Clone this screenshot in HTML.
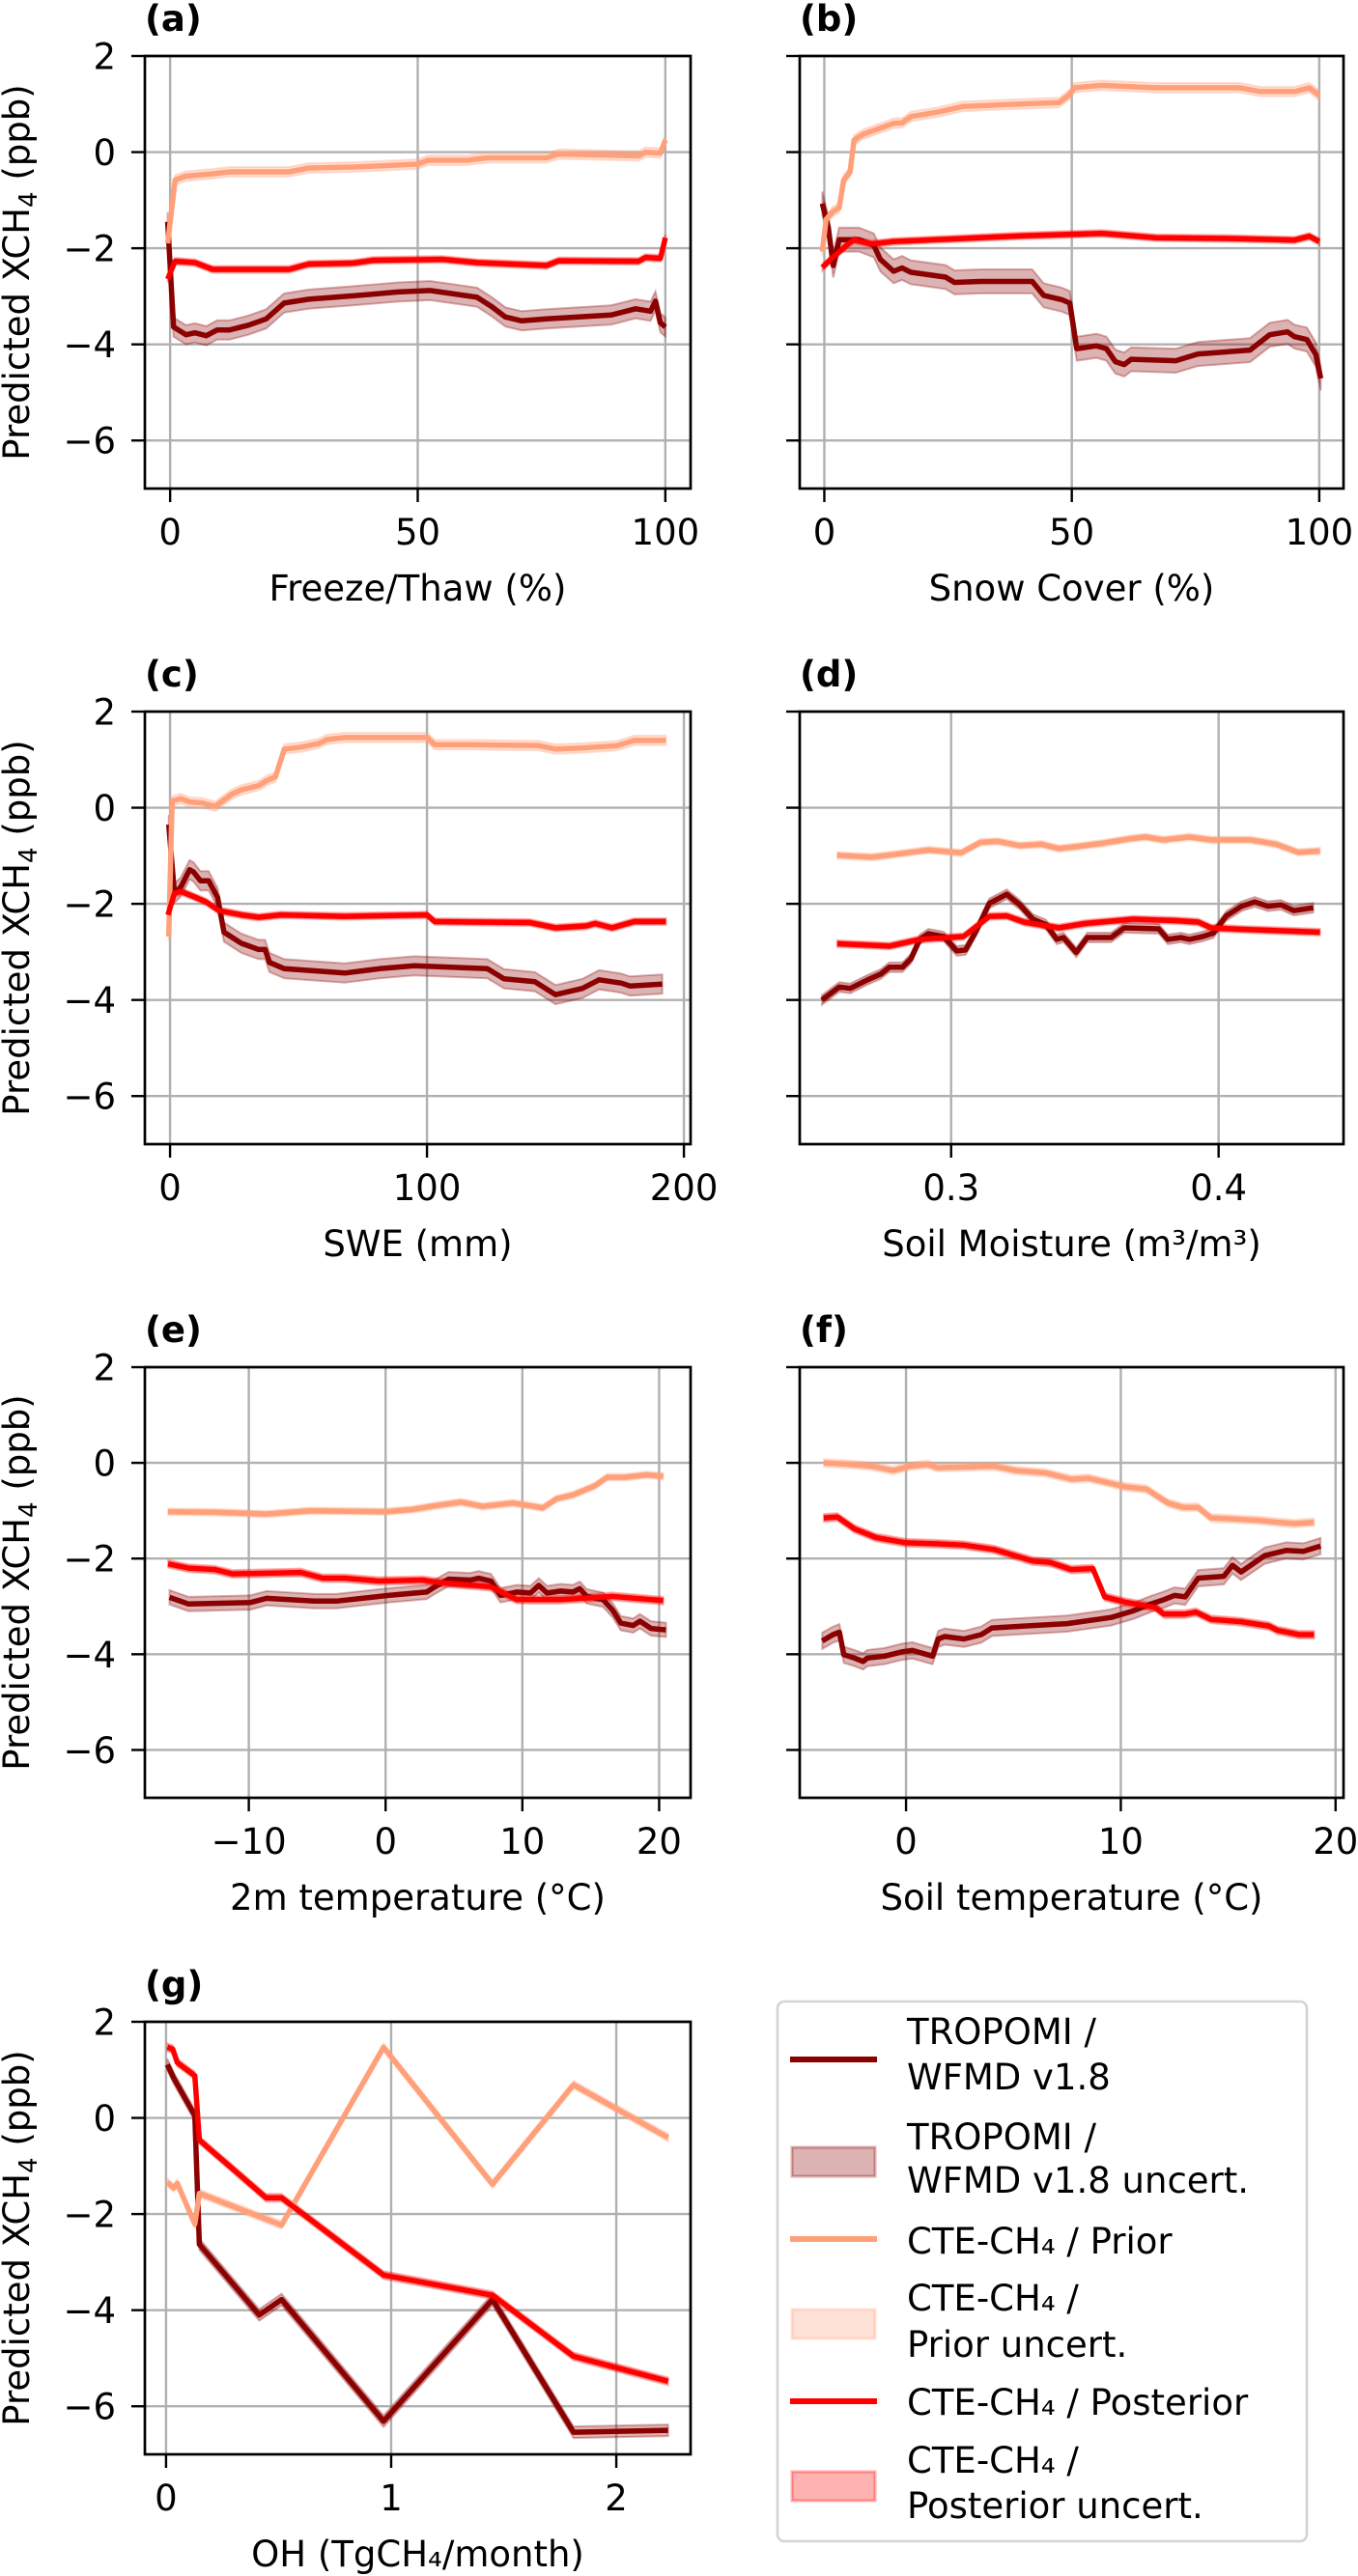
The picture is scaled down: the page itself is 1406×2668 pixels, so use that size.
<!DOCTYPE html>
<html>
<head>
<meta charset="utf-8">
<style>
html,body{margin:0;padding:0;background:#fff;}
svg{display:block;font-family:"DejaVu Sans","Liberation Sans",sans-serif;}
</style>
</head>
<body>
<svg id="fig" xmlns="http://www.w3.org/2000/svg" width="1406" height="2668" viewBox="0 0 1406 2668">
<rect x="0" y="0" width="1406" height="2668" fill="#fff"/>
</svg>
<script>
// ---------- DATA ----------
const yTicks = [-6, -4, -2, 0, 2];
const uncert = [0.2, 0.1, 0.07]; // TROPOMI, prior, posterior half-widths
const uncertB = [0.25, 0.1, 0.07];

// (a) Freeze/Thaw
const aXTicks = [0, 50, 100];
const aTropX = [-0.5,0.7,3.2,5,7.3,9.5,12,15.8,19.4,23,28,37,46,52.5,62,65,67.7,71,76,89,94,97,98,99,100];
const aTropY = [-1.45,-3.64,-3.80,-3.76,-3.82,-3.70,-3.70,-3.60,-3.47,-3.14,-3.06,-2.99,-2.91,-2.88,-3.02,-3.22,-3.43,-3.51,-3.47,-3.39,-3.26,-3.31,-3.10,-3.55,-3.64];
const aPriorX = [-0.5,1,3.2,8.6,12,24,28,37,50,52,60,64,76,78.5,94.6,96,99,100];
const aPriorY = [-1.9,-0.58,-0.50,-0.45,-0.41,-0.41,-0.33,-0.31,-0.25,-0.17,-0.17,-0.12,-0.12,-0.04,-0.08,0,-0.02,0.25];
const aPostX = [-0.5,1,5,8.6,24,28,37,41,55,62,76,78.5,94.6,96,99,100];
const aPostY = [-2.64,-2.27,-2.30,-2.44,-2.44,-2.33,-2.31,-2.25,-2.23,-2.30,-2.36,-2.26,-2.27,-2.19,-2.21,-1.78];

// (b) Snow Cover
const bXTicks = [0, 50, 100];
const bTropX = [-0.4,0.8,1.8,3,7,10,11.3,14,15.7,17.5,24.5,26.3,31.6,42,44.3,48,49.6,51,55,57,58.8,60.6,62,71,75.5,86,90,93.6,95,97.5,99.3,100.3];
const bTropY = [-1.07,-1.57,-2.36,-1.82,-1.82,-1.94,-2.23,-2.48,-2.41,-2.50,-2.60,-2.71,-2.69,-2.69,-2.98,-3.07,-3.14,-4.09,-4.03,-4.09,-4.36,-4.42,-4.31,-4.34,-4.20,-4.12,-3.80,-3.74,-3.84,-3.90,-4.21,-4.71];
const bPriorX = [-0.4,0.35,1.7,3,3.9,5.2,6,7.8,11.3,14,15.7,17.5,22.8,28,36.9,47.4,49.6,50.5,56,66.8,84,88,95,98,100];
const bPriorY = [-2.07,-1.40,-1.24,-1.16,-0.58,-0.41,0.25,0.37,0.50,0.60,0.61,0.74,0.83,0.95,0.99,1.03,1.20,1.34,1.39,1.34,1.34,1.26,1.26,1.34,1.18];
const bPostX = [-0.4,1.7,5.2,6,9.6,14,27,40,56,67,84,95,98,100];
const bPostY = [-2.40,-2.19,-1.88,-1.83,-1.91,-1.86,-1.80,-1.74,-1.69,-1.78,-1.80,-1.83,-1.75,-1.86];

// (c) SWE
const cXTicks = [0, 100, 200];
const cTropX = [-0.5,1.7,4.2,7.6,9.2,11.8,15,18.5,21,27.7,34.5,37,38.7,44.5,68,81.5,95,123.5,130,142,150,160.5,167,175.6,179,191.6];
const cTropY = [-0.35,-1.78,-1.65,-1.29,-1.34,-1.52,-1.52,-1.87,-2.59,-2.82,-2.95,-2.95,-3.22,-3.35,-3.44,-3.35,-3.29,-3.35,-3.56,-3.62,-3.89,-3.76,-3.58,-3.65,-3.71,-3.67];
const cPriorX = [-0.5,0.8,4.2,7.6,12.6,17.6,24,27.7,34.5,37.8,41,44.5,51,58,61,68,100,103,118,143.6,150,160,174,180.7,193];
const cPriorY = [-2.68,0.14,0.19,0.12,0.10,0.03,0.28,0.37,0.46,0.57,0.64,1.22,1.26,1.34,1.42,1.46,1.46,1.31,1.31,1.29,1.22,1.24,1.29,1.40,1.40];
const cPostX = [-0.8,1.7,4.2,11,14,19,27.7,34.5,43,68,100,103,140,150,162,165.5,172,180.7,193];
const cPostY = [-2.23,-1.78,-1.74,-1.89,-1.96,-2.14,-2.23,-2.28,-2.23,-2.26,-2.23,-2.37,-2.39,-2.50,-2.46,-2.41,-2.50,-2.37,-2.37];

// (d) Soil Moisture
const dXTicks = [0.3, 0.4];
const dTropX = [0.2517,0.2582,0.2623,0.2688,0.2737,0.2769,0.2818,0.2850,0.2883,0.2915,0.2972,0.3021,0.3054,0.3094,0.3143,0.3208,0.3257,0.3306,0.3354,0.3395,0.342,0.3468,0.3509,0.3598,0.3647,0.3776,0.3810,0.3859,0.3891,0.3940,0.3980,0.4029,0.4086,0.4135,0.4184,0.4233,0.4281,0.4354];
const dTropY = [-4.00,-3.73,-3.76,-3.58,-3.46,-3.32,-3.32,-3.14,-2.74,-2.62,-2.68,-2.98,-2.96,-2.56,-1.99,-1.80,-2.02,-2.32,-2.43,-2.74,-2.70,-3.01,-2.70,-2.70,-2.50,-2.52,-2.74,-2.70,-2.74,-2.68,-2.61,-2.25,-2.05,-1.96,-2.05,-2.02,-2.14,-2.08];
const dPriorX = [0.2574,0.2704,0.2834,0.2915,0.3037,0.311,0.3176,0.3257,0.3338,0.3403,0.3468,0.3566,0.3663,0.3728,0.3793,0.3891,0.3972,0.4119,0.4216,0.4298,0.4379];
const dPriorY = [-0.99,-1.03,-0.94,-0.88,-0.94,-0.72,-0.70,-0.79,-0.76,-0.85,-0.81,-0.74,-0.65,-0.61,-0.67,-0.61,-0.67,-0.67,-0.76,-0.93,-0.90];
const dPostX = [0.2574,0.2769,0.2883,0.3046,0.3143,0.3208,0.3273,0.3403,0.35,0.368,0.384,0.3924,0.3972,0.4086,0.4379];
const dPostY = [-2.83,-2.88,-2.74,-2.68,-2.26,-2.25,-2.38,-2.50,-2.41,-2.32,-2.35,-2.38,-2.50,-2.53,-2.59];

// (e) 2m temperature
const eXTicks = [-10, 0, 10, 20];
const eTropX = [-15.8,-14.4,-9.9,-8.7,-5.2,-3.6,0.2,3.0,3.6,4.6,6.2,6.8,7.7,8.4,9.6,10.6,11.2,11.8,12.8,13.7,14.2,14.7,15.9,16.6,17.2,18.1,18.6,19.4,20.5];
const eTropY = [-2.81,-2.95,-2.92,-2.83,-2.89,-2.89,-2.77,-2.70,-2.59,-2.43,-2.45,-2.41,-2.47,-2.77,-2.70,-2.72,-2.56,-2.72,-2.68,-2.70,-2.63,-2.79,-2.86,-3.08,-3.35,-3.40,-3.31,-3.46,-3.49];
const ePriorX = [-15.9,-12.5,-8.7,-5.5,0,2.05,3.3,5.5,7.1,9.3,11.5,12.5,13.7,15.3,16.2,17.5,19.1,20.3];
const ePriorY = [-1.02,-1.03,-1.07,-1.00,-1.02,-0.97,-0.91,-0.82,-0.91,-0.84,-0.94,-0.75,-0.67,-0.48,-0.30,-0.30,-0.25,-0.28];
const ePostX = [-15.9,-14.4,-12.5,-11.2,-6.2,-4.6,-3.0,-0.5,2.7,3.9,7.7,9.6,12.8,16.6,20.3];
const ePostY = [-2.11,-2.20,-2.23,-2.32,-2.29,-2.41,-2.41,-2.47,-2.45,-2.50,-2.59,-2.86,-2.86,-2.79,-2.88];

// (f) Soil temperature
const fXTicks = [0, 10, 20];
const fTropX = [-3.9,-3.4,-3.1,-2.9,-2.4,-2.0,-1.8,-1.0,-0.2,0.3,1.24,1.5,1.8,2.7,3.5,4.0,5.5,7.5,9.55,10.6,11.4,12.0,12.5,13.0,13.6,14.8,15.2,15.6,16.7,17.7,18.5,19.3];
const fTropY = [-3.72,-3.59,-3.54,-4.01,-4.08,-4.15,-4.08,-4.04,-3.95,-3.92,-4.04,-3.68,-3.63,-3.68,-3.59,-3.45,-3.41,-3.36,-3.23,-3.09,-2.95,-2.86,-2.77,-2.80,-2.41,-2.37,-2.14,-2.28,-1.94,-1.83,-1.85,-1.74];
const fPriorX = [-3.83,-2.6,-1.6,-0.6,0.2,1.0,1.44,4.1,5.1,6.5,7.7,8.5,9.55,10.2,11.2,12.2,12.9,13.6,14.2,16.4,17.3,18.1,19.0];
const fPriorY = [0,-0.03,-0.07,-0.16,-0.07,-0.03,-0.10,-0.07,-0.16,-0.21,-0.34,-0.32,-0.43,-0.50,-0.55,-0.84,-0.93,-0.93,-1.15,-1.20,-1.24,-1.27,-1.24];
const fPostX = [-3.83,-3.2,-2.4,-1.4,0,1.4,2.7,4.1,5.9,6.7,7.7,8.7,9.25,10.2,11.6,12.0,13.0,13.5,14.2,15.6,16.9,17.3,18.3,19.0];
const fPostY = [-1.15,-1.13,-1.38,-1.56,-1.67,-1.69,-1.72,-1.81,-2.05,-2.08,-2.23,-2.21,-2.80,-2.91,-3.02,-3.16,-3.16,-3.12,-3.27,-3.32,-3.41,-3.50,-3.59,-3.59];

// (g) OH
const gXTicks = [0, 1, 2];
const gTropX = [0.006,0.034,0.128,0.148,0.414,0.513,0.966,1.45,1.81,2.23];
const gTropY = [1.11,0.83,0.05,-2.63,-4.10,-3.78,-6.31,-3.78,-6.54,-6.50];
const gPriorX = [0.006,0.034,0.05,0.128,0.148,0.513,0.966,1.45,1.81,2.23];
const gPriorY = [-1.34,-1.46,-1.36,-2.21,-1.57,-2.23,1.47,-1.38,0.69,-0.41];
const gPostX = [0.006,0.03,0.05,0.128,0.148,0.444,0.513,0.966,1.45,1.81,2.23];
const gPostY = [1.47,1.43,1.15,0.88,-0.46,-1.66,-1.66,-3.27,-3.69,-4.96,-5.48];

// ---------- RENDER ----------
const NS = 'http://www.w3.org/2000/svg';
const svg = document.getElementById('fig');
const C_TROP = '#8b0000', C_PRIOR = '#ffa07a', C_POST = '#ff0000';

function mk(tag, attrs, parent) {
  const e = document.createElementNS(NS, tag);
  for (const k in attrs) e.setAttribute(k, attrs[k]);
  (parent || svg).appendChild(e);
  return e;
}
function fmt(v) {
  let s = (Math.abs(v) < 1e-9) ? '0' : String(+v.toFixed(2));
  return s.replace('-', '\u2212');
}

const panels = [
  {id:'a', L:150, R:715, T:58, B:506, xmin:-5.1, xmax:105.1, ticks:aXTicks, label:'Freeze/Thaw (%)', ylab:true,
   trop:[aTropX,aTropY], prior:[aPriorX,aPriorY], post:[aPostX,aPostY], u:uncert},
  {id:'b', L:828, R:1391, T:58, B:506, xmin:-4.97, xmax:104.9, ticks:bXTicks, label:'Snow Cover (%)', ylab:false,
   trop:[bTropX,bTropY], prior:[bPriorX,bPriorY], post:[bPostX,bPostY], u:uncertB},
  {id:'c', L:150, R:715, T:737, B:1185, xmin:-9.8, xmax:202.6, ticks:cXTicks, label:'SWE (mm)', ylab:true,
   trop:[cTropX,cTropY], prior:[cPriorX,cPriorY], post:[cPostX,cPostY], u:uncert},
  {id:'d', L:828, R:1391, T:737, B:1185, xmin:0.2434, xmax:0.4467, ticks:dXTicks, label:'Soil Moisture (m\u00b3/m\u00b3)', ylab:false,
   trop:[dTropX,dTropY], prior:[dPriorX,dPriorY], post:[dPostX,dPostY], u:[0.1,0.07,0.07]},
  {id:'e', L:150, R:715, T:1416, B:1862, xmin:-17.6, xmax:22.3, ticks:eXTicks, label:'2m temperature (\u00b0C)', ylab:true,
   trop:[eTropX,eTropY], prior:[ePriorX,ePriorY], post:[ePostX,ePostY], u:[0.15,0.07,0.08]},
  {id:'f', L:828, R:1391, T:1416, B:1862, xmin:-4.95, xmax:20.37, ticks:fXTicks, label:'Soil temperature (\u00b0C)', ylab:false,
   trop:[fTropX,fTropY], prior:[fPriorX,fPriorY], post:[fPostX,fPostY], u:[0.17,0.08,0.08]},
  {id:'g', L:150, R:715, T:2094, B:2542, xmin:-0.094, xmax:2.33, ticks:gXTicks, label:'OH (TgCH\u2084/month)', ylab:true,
   trop:[gTropX,gTropY], prior:[gPriorX,gPriorY], post:[gPostX,gPostY], u:[0.12,0.08,0.08]}
];

panels.forEach(p => {
  const g = mk('g', {});
  
  
  const sx = v => p.L + (v - p.xmin) / (p.xmax - p.xmin) * (p.R - p.L);
  const sy = v => p.B - (v - (-7)) / 9 * (p.B - p.T);

  const cp = mk('clipPath', {id: 'clip-' + p.id}, g);
  mk('rect', {x: p.L, y: p.T, width: p.R - p.L, height: p.B - p.T}, cp);

  // grid
  const grid = mk('g', {stroke: '#b0b0b0', 'stroke-width': 2.4}, g);
  
  
  yTicks.forEach(t => mk('line', {x1: p.L, x2: p.R, y1: sy(t), y2: sy(t)}, grid));
  p.ticks.forEach(t => mk('line', {x1: sx(t), x2: sx(t), y1: p.T, y2: p.B}, grid));

  const plot = mk('g', {'clip-path': 'url(#clip-' + p.id + ')'}, g);
  const series = [[p.trop, C_TROP, p.u[0], 'tropomi'], [p.prior, C_PRIOR, p.u[1], 'prior'], [p.post, C_POST, p.u[2], 'posterior']];
  series.forEach(s => {
    const xs = s[0][0], ys = s[0][1], u = s[2];
    let up = [], dn = [];
    for (let i = 0; i < xs.length; i++) {
      up.push(sx(xs[i]).toFixed(1) + ',' + sy(ys[i] + u).toFixed(1));
      dn.unshift(sx(xs[i]).toFixed(1) + ',' + sy(ys[i] - u).toFixed(1));
    }
    const band = mk('polygon', {points: up.concat(dn).join(' '), fill: s[1], 'fill-opacity': 0.3, stroke: s[1], 'stroke-opacity': 0.3, 'stroke-width': 2}, plot);
    
    
  });
  series.forEach(s => {
    const xs = s[0][0], ys = s[0][1];
    const pts = xs.map((x, i) => sx(x).toFixed(1) + ',' + sy(ys[i]).toFixed(1)).join(' ');
    const ln = mk('polyline', {points: pts, fill: 'none', stroke: s[1], 'stroke-width': 5.5, 'stroke-linejoin': 'round'}, plot);
    
    
  });

  // spines
  const sp = mk('rect', {x: p.L, y: p.T, width: p.R - p.L, height: p.B - p.T, fill: 'none', stroke: '#000', 'stroke-width': 2.7}, g);
  
  

  // ticks
  const tk = mk('g', {stroke: '#000', 'stroke-width': 2.4}, g);
  yTicks.forEach(t => mk('line', {x1: p.L - 14, x2: p.L, y1: sy(t), y2: sy(t)}, tk));
  p.ticks.forEach(t => mk('line', {x1: sx(t), x2: sx(t), y1: p.B, y2: p.B + 14}, tk));

  p.ticks.forEach(t => {
    const tx = mk('text', {x: sx(t), y: p.B + 58, 'font-size': 37, 'text-anchor': 'middle', fill: '#000'}, g);
    tx.textContent = fmt(t);
    
    
  });
  if (p.ylab) {
    yTicks.forEach(t => {
      const tx = mk('text', {x: p.L - 30, y: sy(t) + 13.5, 'font-size': 37, 'text-anchor': 'end', fill: '#000'}, g);
      tx.textContent = fmt(t);
      
      
    });
    const cy = (p.T + p.B) / 2;
    const yl = mk('text', {x: 30, y: cy, 'font-size': 37, 'text-anchor': 'middle', fill: '#000', transform: 'rotate(-90 30 ' + cy + ')'}, g);
    
    
    yl.appendChild(document.createTextNode('Predicted XCH'));
    const sub = mk('tspan', {'font-size': 26, dy: 8}, yl);
    sub.textContent = '4';
    const rest = mk('tspan', {dy: -8}, yl);
    rest.textContent = ' (ppb)';
  }
  const xl = mk('text', {x: (p.L + p.R) / 2, y: p.B + 116, 'font-size': 37, 'text-anchor': 'middle', fill: '#000'}, g);
  xl.textContent = p.label;
  
  

  const pl = mk('text', {x: p.L, y: p.T - 26, 'font-size': 37, 'font-weight': 'bold', fill: '#000'}, g);
  pl.textContent = '(' + p.id + ')';
  
  
});

// ---------- LEGEND ----------
const lg = mk('g', {});


mk('rect', {x: 805, y: 2073, width: 548, height: 559, rx: 7, fill: '#fff', stroke: '#d4d4d4', 'stroke-width': 2.6}, lg);
const entries = [
  {type: 'line', c: C_TROP, y: 2133, lines: [['TROPOMI /', 2117], ['WFMD v1.8', 2164]], name: 'legend-entry-tropomi'},
  {type: 'patch', c: C_TROP, y: 2224, lines: [['TROPOMI /', 2226], ['WFMD v1.8 uncert.', 2271]], name: 'legend-entry-tropomi-uncert'},
  {type: 'line', c: C_PRIOR, y: 2319, lines: [['CTE-CH\u2084 / Prior', 2334]], name: 'legend-entry-prior'},
  {type: 'patch', c: C_PRIOR, y: 2392, lines: [['CTE-CH\u2084 /', 2393], ['Prior uncert.', 2441]], name: 'legend-entry-prior-uncert'},
  {type: 'line', c: C_POST, y: 2487, lines: [['CTE-CH\u2084 / Posterior', 2501]], name: 'legend-entry-posterior'},
  {type: 'patch', c: C_POST, y: 2560, lines: [['CTE-CH\u2084 /', 2561], ['Posterior uncert.', 2608]], name: 'legend-entry-posterior-uncert'}
];
entries.forEach(en => {
  const eg = mk('g', {}, lg);
  
  
  if (en.type === 'line') {
    mk('line', {x1: 818, x2: 908, y1: en.y, y2: en.y, stroke: en.c, 'stroke-width': 6}, eg);
  } else {
    mk('rect', {x: 820, y: en.y, width: 86, height: 30, fill: en.c, 'fill-opacity': 0.3, stroke: en.c, 'stroke-opacity': 0.3, 'stroke-width': 3}, eg);
  }
  en.lines.forEach(l => {
    const t = mk('text', {x: 939, y: l[1], 'font-size': 37, fill: '#000'}, eg);
    t.textContent = l[0];
  });
});
</script>
</body>
</html>
